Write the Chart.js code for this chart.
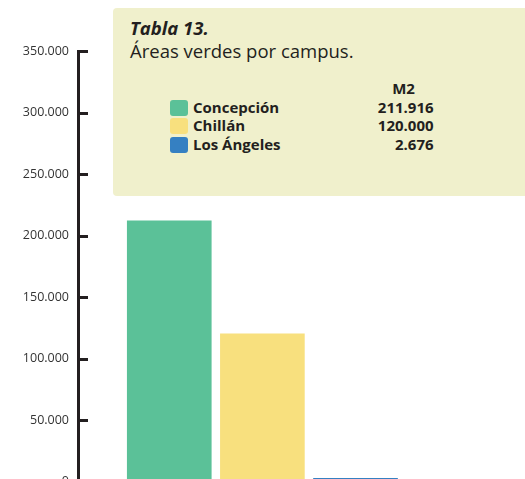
<!DOCTYPE html>
<html>
<head>
    <meta charset="utf-8">
    <title>Áreas verdes por campus</title>
    <script src="https://cdn.jsdelivr.net/npm/chart.js"></script>
    <style>
        html, body {
            margin: 0;
            padding: 0;
            overflow: hidden;
            background: #fff;
        }
        .wrap {
            position: relative;
            width: 525px;
            height: 479px;
        }
        canvas {
            position: absolute;
            left: 0;
            top: 0;
        }
        .panel {
            position: absolute;
            left: 113px;
            top: 8px;
            width: 420px;
            height: 188px;
            background: #f0f0cc;
            border-radius: 4px;
            color: #231f20;
            font-family: "Open Sans", sans-serif;
        }
        .panel h1 {
            position: absolute;
            left: 17px;
            top: 9px;
            margin: 0;
            font-size: 18.5px;
            line-height: 22px;
            font-weight: 700;
            font-style: italic;
        }
        .panel h2 {
            position: absolute;
            left: 17px;
            top: 31px;
            margin: 0;
            font-size: 18.5px;
            line-height: 24px;
            font-weight: 400;
        }
        .panel table {
            position: absolute;
            left: 57px;
            top: 71px;
            border-collapse: collapse;
            font-size: 15px;
            font-weight: 700;
        }
        .panel td, .panel th {
            padding: 0;
            height: 18.5px;
            line-height: 18.5px;
        }
        .panel th {
            text-align: center;
            padding-left: 93px;
        }
        .sw {
            display: inline-block;
            width: 18px;
            height: 16px;
            border-radius: 3px;
            vertical-align: -3px;
            margin-right: 5px;
        }
        .num {
            text-align: right;
            width: 60px;
            padding-left: 93px !important;
        }
    </style>
</head>
<body>
    <div class="wrap">
        <canvas id="areasChart" width="525" height="498"></canvas>
        <div class="panel">
            <h1>Tabla 13.</h1>
            <h2>Áreas verdes por campus.</h2>
            <table id="legend"></table>
        </div>
    </div>

    <script>
        const campus = ['Concepción', 'Chillán', 'Los Ángeles'];
        const areaM2 = [211916, 120000, 2676];
        const colores = ['#5bc198', '#f8e07e', '#3580c2'];
        const unidad = 'M2';

        // 211916 -> "211.916"
        function formato(n) {
            return String(n).replace(/\B(?=(\d{3})+(?!\d))/g, '.');
        }

        // legend table with values
        const legend = document.getElementById('legend');
        let html = '<tr><td></td><th>' + unidad + '</th></tr>';
        campus.forEach((c, i) => {
            html += '<tr><td><span class="sw" style="background:' + colores[i] + '"></span>' + c +
                '</td><td class="num">' + formato(areaM2[i]) + '</td></tr>';
        });
        legend.innerHTML = html;

        // short tick marks pointing right from the y axis
        const innerTicks = {
            id: 'innerTicks',
            afterDraw(chart) {
                const y = chart.scales.y;
                const ctx = chart.ctx;
                const x0 = chart.chartArea.left;
                ctx.save();
                ctx.strokeStyle = '#231f20';
                ctx.lineWidth = 3;
                y.ticks.forEach(t => {
                    const py = Math.round(y.getPixelForValue(t.value)) + 0.5;
                    ctx.beginPath();
                    ctx.moveTo(x0, py);
                    ctx.lineTo(x0 + 10, py);
                    ctx.stroke();
                });
                ctx.restore();
            }
        };

        const puntos = areaM2.map((v, i) => ({ x: i + 1, y: v }));

        new Chart(document.getElementById('areasChart').getContext('2d'), {
            type: 'bar',
            data: {
                datasets: [{
                    label: unidad,
                    data: puntos,
                    backgroundColor: colores,
                    borderWidth: 0,
                    barThickness: 84
                }]
            },
            options: {
                responsive: false,
                animation: false,
                layout: { padding: { top: 51, bottom: 5, left: 0, right: 0 } },
                plugins: {
                    legend: { display: false },
                    tooltip: { enabled: false }
                },
                scales: {
                    x: {
                        type: 'linear',
                        min: 0.02,
                        max: 4.82,
                        offset: false,
                        display: false
                    },
                    y: {
                        min: 0,
                        max: 350000,
                        afterFit(scale) { scale.width = 78; },
                        ticks: {
                            stepSize: 50000,
                            padding: 9,
                            color: '#333',
                            font: { family: 'Open Sans', size: 12.5 },
                            callback: v => formato(v)
                        },
                        grid: { display: false, drawTicks: false },
                        border: { display: true, color: '#231f20', width: 3 }
                    }
                }
            },
            plugins: [innerTicks]
        });
    </script>
</body>
</html>
